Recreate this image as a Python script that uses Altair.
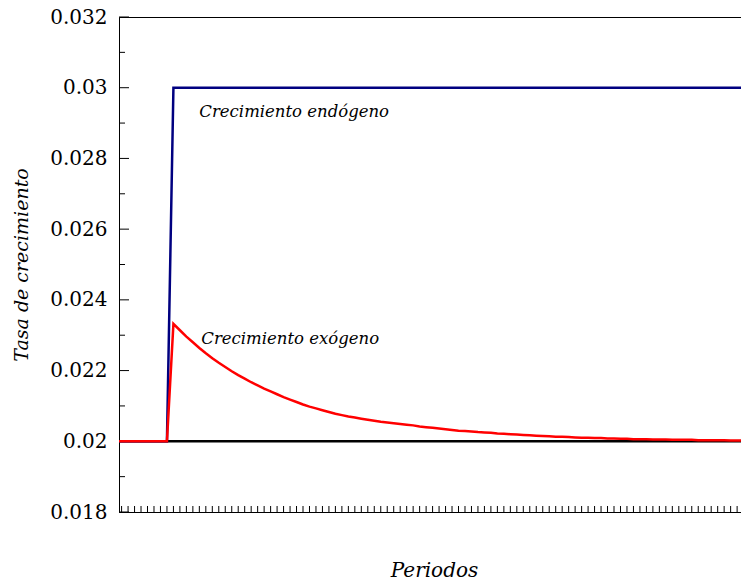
import altair as alt
import pandas as pd

# Periods of the simulation (0 and 97 fall just outside the visible window)
periods = list(range(0, 98))

# Steady-state reference rate
base_rate = [0.02] * 98

# Endogenous growth: permanent jump to the new rate
endogenous = [0.02] * 9 + [0.03] * 89

# Exogenous growth: temporary jump that fades back to the steady state
exogenous = [0.02] * 9 + [
    0.02332, 0.02314, 0.02296, 0.02280, 0.02264, 0.02249, 0.02235, 0.02222, 0.02210, 0.02198,
    0.02187, 0.02177, 0.02167, 0.02158, 0.02149, 0.02141, 0.02133, 0.02125, 0.02118, 0.02111,
    0.02104, 0.02098, 0.02093, 0.02088, 0.02083, 0.02078, 0.02074, 0.02070, 0.02067, 0.02064,
    0.02061, 0.02058, 0.02055, 0.02053, 0.02051, 0.02049, 0.02047, 0.02045, 0.02042, 0.02040,
    0.02038, 0.02036, 0.02034, 0.02032, 0.02030, 0.02029, 0.02028, 0.02026, 0.02025, 0.02024,
    0.02022, 0.02021, 0.02020, 0.02019, 0.02018, 0.02017, 0.02016, 0.02015, 0.02014, 0.02013,
    0.02013, 0.02012, 0.02011, 0.02010, 0.02010, 0.02009, 0.02009, 0.02008, 0.02008, 0.02007,
    0.02007, 0.02006, 0.02006, 0.02006, 0.02005, 0.02005, 0.02005, 0.02004, 0.02004, 0.02004,
    0.02004, 0.02003, 0.02003, 0.02003, 0.02003, 0.02003, 0.02002, 0.02002, 0.02002,
]

# Axis ticks
x_ticks = list(range(1, 97))
y_major = [0.018, 0.020, 0.022, 0.024, 0.026, 0.028, 0.030, 0.032]
y_minor = [0.019, 0.021, 0.023, 0.025, 0.027, 0.029, 0.031]

# Curve annotations
label_text = ["Crecimiento endógeno", "Crecimiento exógeno"]
label_period = [13.0, 13.3]
label_rate = [0.02917, 0.02275]

FONT = "DejaVu Serif"

df = pd.DataFrame({
    "periodo": periods,
    "base": base_rate,
    "endogeno": endogenous,
    "exogeno": exogenous,
})

x_enc = alt.X(
    "periodo:Q",
    scale=alt.Scale(domain=[0.6, 96.6], nice=False, zero=False),
    axis=alt.Axis(
        labels=False, ticks=False, grid=False,
        domainColor="black", domainWidth=1,
        title="Periodos", titleFont=FONT, titleFontStyle="italic",
        titleFontWeight="normal", titleFontSize=20, titleColor="black",
        titleX=315, titleY=64, titleBaseline="alphabetic", titleAlign="center",
    ),
)

y_axis = alt.Axis(
    values=y_major, format="~g", ticks=False, grid=False,
    domainColor="black", domainWidth=1,
    labelFont=FONT, labelFontSize=20, labelColor="black", labelPadding=12,
    title="Tasa de crecimiento", titleFont=FONT, titleFontStyle="italic",
    titleFontWeight="normal", titleFontSize=19, titleColor="black",
    titleX=-92, titleY=247.5, titleBaseline="alphabetic", titleAngle=-90,
)
y_scale = alt.Scale(domain=[0.018, 0.032], nice=False, zero=False)


def y_enc(field):
    return alt.Y(f"{field}:Q", scale=y_scale, axis=y_axis, title="Tasa de crecimiento")


base = alt.Chart(df)

line_base = base.mark_line(color="black", strokeWidth=2.5, clip=True).encode(
    x=x_enc, y=y_enc("base"))
line_endo = base.mark_line(color="#000080", strokeWidth=2.5, clip=True).encode(
    x=x_enc, y=y_enc("endogeno"))
line_exo = base.mark_line(color="#FF0000", strokeWidth=2.5, clip=True).encode(
    x=x_enc, y=y_enc("exogeno"))

# Inward-pointing ticks on the period axis
xt = alt.Chart(pd.DataFrame({"periodo": x_ticks})).mark_rule(
    color="black", strokeWidth=1).encode(
    x=x_enc, y=alt.value(495), y2=alt.value(489))

# Inward-pointing major and minor ticks on the rate axis
yt_major = alt.Chart(pd.DataFrame({"t": y_major})).mark_rule(
    color="black", strokeWidth=1).encode(
    y=alt.Y("t:Q", scale=y_scale, axis=y_axis, title="Tasa de crecimiento"),
    x=alt.value(0), x2=alt.value(10))
yt_minor = alt.Chart(pd.DataFrame({"t": y_minor})).mark_rule(
    color="black", strokeWidth=1).encode(
    y=alt.Y("t:Q", scale=y_scale, axis=y_axis, title="Tasa de crecimiento"),
    x=alt.value(0), x2=alt.value(6))

labels = alt.Chart(pd.DataFrame({
    "periodo": label_period, "l": label_rate, "texto": label_text,
})).mark_text(
    align="left", baseline="alphabetic", font=FONT, fontStyle="italic",
    fontSize=16.5, color="black",
).encode(
    x=x_enc,
    y=alt.Y("l:Q", scale=y_scale, axis=y_axis, title="Tasa de crecimiento"),
    text="texto:N",
)

chart = alt.layer(
    xt, yt_major, yt_minor, line_base, line_endo, line_exo, labels
).properties(
    width=622, height=495,
    padding={"left": 119, "top": 17, "right": 0, "bottom": 69},
    autosize=alt.AutoSizeParams(type="none"),
    background="white",
).configure_view(stroke="black", strokeWidth=1)

chart.save("out.html", embed_options={"renderer": "svg", "actions": False})
